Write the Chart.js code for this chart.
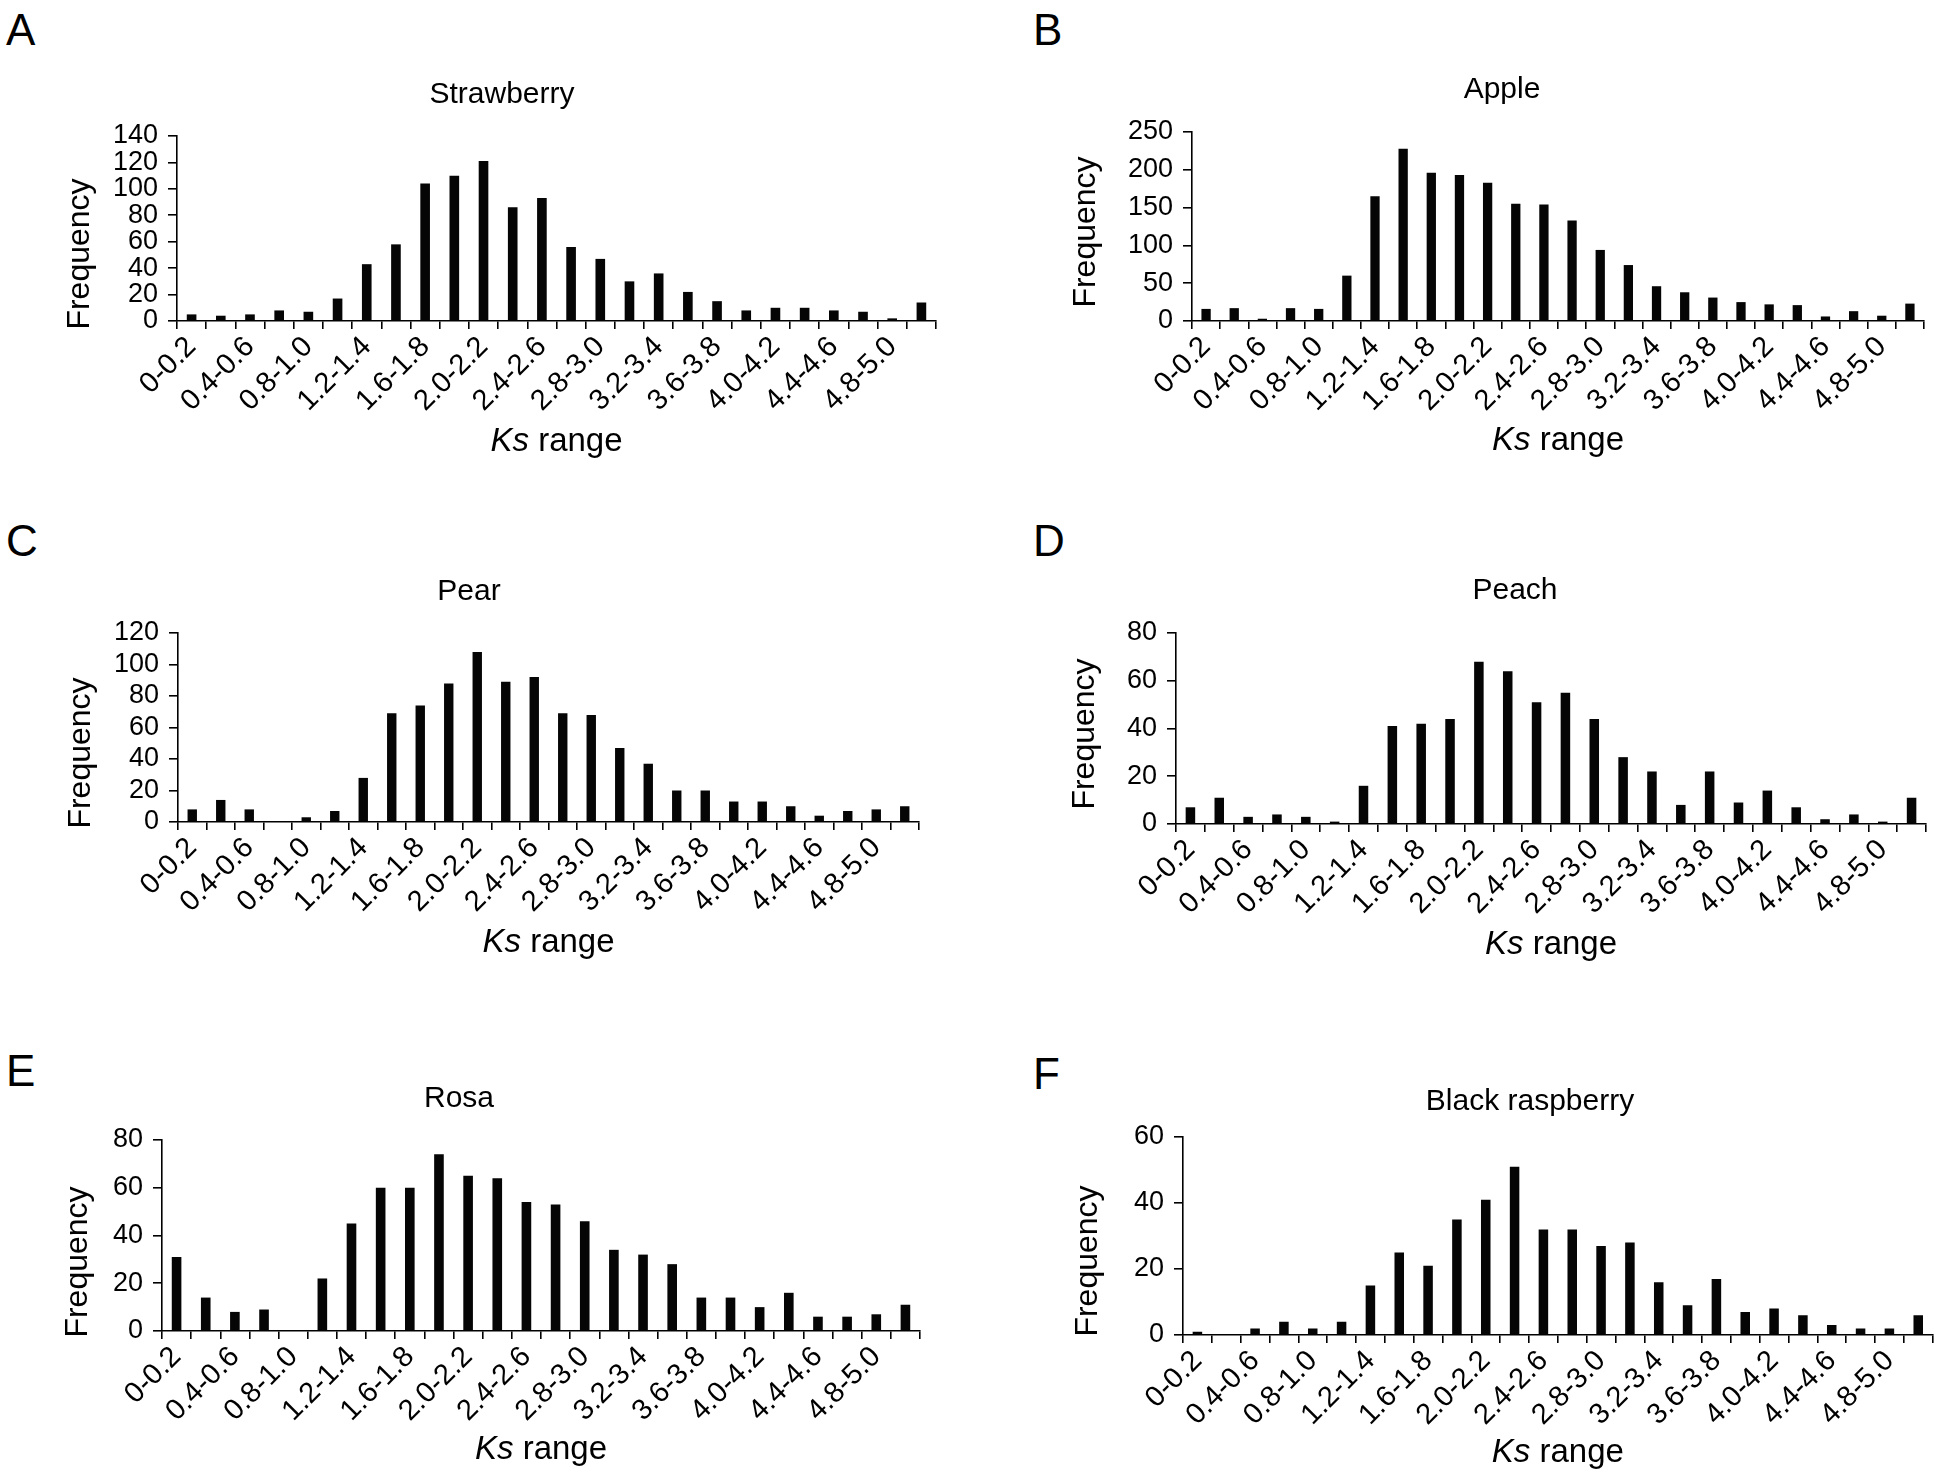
<!DOCTYPE html>
<html><head><meta charset="utf-8">
<script src="https://cdn.jsdelivr.net/npm/chart.js@4/dist/chart.umd.min.js"></script>
<style>
html,body{margin:0;padding:0;background:#fff;}
#wrap{position:relative;width:1944px;height:1475px;overflow:hidden;background:#fff;}
#wrap canvas{position:absolute;}
.letter{position:absolute;font-family:'Liberation Sans',Arial,Helvetica,sans-serif;font-size:44px;line-height:1;color:#000;}
</style></head><body><div id="wrap"></div>
<script>
// ---------- data ----------
const ksBins = ['0-0.2','0.2-0.4','0.4-0.6','0.6-0.8','0.8-1.0','1.0-1.2','1.2-1.4','1.4-1.6','1.6-1.8','1.8-2.0','2.0-2.2','2.2-2.4','2.4-2.6','2.6-2.8','2.8-3.0','3.0-3.2','3.2-3.4','3.4-3.6','3.6-3.8','3.8-4.0','4.0-4.2','4.2-4.4','4.4-4.6','4.6-4.8','4.8-5.0','>5.0'];
const ksTickLabels = ['0-0.2','','0.4-0.6','','0.8-1.0','','1.2-1.4','','1.6-1.8','','2.0-2.2','','2.4-2.6','','2.8-3.0','','3.2-3.4','','3.6-3.8','','4.0-4.2','','4.4-4.6','','4.8-5.0',''];
const panelLetters = ['A','B','C','D','E','F'];
const panelTitles = ['Strawberry','Apple','Pear','Peach','Rosa','Black raspberry'];
const strawberry = [5,4,5,8,7,17,43,58,104,110,121,86,93,56,47,30,36,22,15,8,10,10,8,7,2,14];
const apple = [16,17,3,17,16,60,165,228,196,193,183,155,154,133,94,74,46,38,31,25,22,21,6,13,7,23];
const pear = [8,14,8,0,3,7,28,69,74,88,108,89,92,69,68,47,37,20,20,13,13,10,4,7,8,10];
const peach = [7,11,3,4,3,1,16,41,42,44,68,64,51,55,44,28,22,8,22,9,14,7,2,4,1,11];
const rosa = [31,14,8,9,0,22,45,60,60,74,65,64,54,53,46,34,32,28,14,14,10,16,6,6,7,11];
const blackRaspberry = [1,0,2,4,2,4,15,25,21,35,41,51,32,32,27,28,16,9,17,7,8,6,3,2,2,6];
const yAxisMax = [140,250,120,80,80,60];
const yAxisStep = [20,50,20,20,20,20];
const yAxisTitle = 'Frequency';
const xAxisTitleItalic = 'Ks';
const xAxisTitleRest = ' range';
const seriesList = [strawberry, apple, pear, peach, rosa, blackRaspberry];

// ---------- layout (pixels) ----------
const FONT = "'Liberation Sans', Arial, Helvetica, sans-serif";
const panels = [
  {cx:0,   cy:0,   cw:972, ch:490, L:177,  R:936,  T:136,  B:321,  fx:80,   fy:254,  tx:502,  ty:95,   ky:442,  lx:6,    ly:8},
  {cx:972, cy:0,   cw:972, ch:490, L:1192, R:1924, T:132,  B:321,  fx:1086, fy:232,  tx:1502, ty:90,   ky:441,  lx:1033, ly:8},
  {cx:0,   cy:490, cw:972, ch:495, L:178,  R:919,  T:633,  B:822,  fx:81,   fy:753,  tx:469,  ty:592,  ky:943,  lx:6,    ly:519},
  {cx:972, cy:490, cw:972, ch:495, L:1176, R:1926, T:633,  B:824,  fx:1085, fy:734,  tx:1515, ty:591,  ky:945,  lx:1033, ly:519},
  {cx:0,   cy:985, cw:972, ch:490, L:162,  R:920,  T:1140, B:1331, fx:78,   fy:1262, tx:459,  ty:1099, ky:1450, lx:6,    ly:1049},
  {cx:972, cy:985, cw:972, ch:490, L:1183, R:1936, T:1137, B:1335, fx:1088, fy:1261, tx:1530, ty:1102, ky:1453, lx:1033, ly:1052}
];
const X_AXIS_H = 100;
const Y_TICK_SIZE = 27;
const X_TICK_SIZE = 29;

const panelText = {
  id: 'panelText',
  afterDraw(chart, args, o) {
    const ctx = chart.ctx, ca = chart.chartArea;
    ctx.save();
    ctx.fillStyle = '#000';
    ctx.textBaseline = 'middle';
    ctx.textAlign = 'center';
    // chart title
    ctx.font = '30px ' + FONT;
    ctx.fillText(o.title, o.tx, o.ty);
    // y axis title
    ctx.save();
    ctx.translate(o.fx, o.fy);
    ctx.rotate(-Math.PI / 2);
    ctx.font = '32px ' + FONT;
    ctx.fillText(o.ytitle, 0, 0);
    ctx.restore();
    // x axis title (italic Ks + range)
    const it = 'italic 33px ' + FONT, nm = '33px ' + FONT;
    ctx.font = it; const w1 = ctx.measureText(o.xi).width;
    ctx.font = nm; const w2 = ctx.measureText(o.xr).width;
    const x0 = (ca.left + ca.right) / 2 - (w1 + w2) / 2;
    ctx.textAlign = 'left';
    ctx.font = it; ctx.fillText(o.xi, x0, o.ky);
    ctx.font = nm; ctx.fillText(o.xr, x0 + w1, o.ky);
    ctx.restore();
  }
};

const wrap = document.getElementById('wrap');
panels.forEach((p, i) => {
  const lt = document.createElement('div');
  lt.className = 'letter';
  lt.style.left = p.lx + 'px';
  lt.style.top = p.ly + 'px';
  lt.textContent = panelLetters[i];
  wrap.appendChild(lt);

  const cv = document.createElement('canvas');
  cv.width = p.cw; cv.height = p.ch;
  cv.style.left = p.cx + 'px'; cv.style.top = p.cy + 'px';
  cv.style.width = p.cw + 'px'; cv.style.height = p.ch + 'px';
  wrap.appendChild(cv);

  const yW = p.L - p.cx;
  const padTop = p.T - p.cy;
  const padRight = p.cx + p.cw - p.R;
  const padBottom = p.cy + p.ch - p.B - X_AXIS_H;

  new Chart(cv, {
    type: 'bar',
    data: {
      labels: ksBins,
      datasets: [{
        data: seriesList[i],
        backgroundColor: '#050505',
        borderWidth: 0,
        barPercentage: 0.33,
        categoryPercentage: 1.0
      }]
    },
    plugins: [panelText],
    options: {
      responsive: false,
      animation: false,
      devicePixelRatio: 1,
      layout: {padding: {left: 0, right: padRight, top: padTop, bottom: padBottom}},
      plugins: {
        legend: {display: false},
        title: {display: false},
        tooltip: {enabled: false},
        panelText: {title: panelTitles[i], tx: p.tx - p.cx, ty: p.ty - p.cy, ky: p.ky - p.cy,
                    fx: p.fx - p.cx, fy: p.fy - p.cy, ytitle: yAxisTitle,
                    xi: xAxisTitleItalic, xr: xAxisTitleRest}
      },
      scales: {
        x: {
          type: 'category',
          offset: true,
          grid: {display: true, offset: true, drawOnChartArea: false, drawTicks: true, tickLength: 8, color: '#000', lineWidth: 1.6},
          border: {display: true, color: '#000', width: 1.6},
          ticks: {
            autoSkip: false, minRotation: 45, maxRotation: 45, padding: 1, color: '#000',
            font: {family: FONT, size: X_TICK_SIZE},
            callback: (v, idx) => ksTickLabels[idx]
          },
          afterFit: (s) => { s.height = X_AXIS_H; }
        },
        y: {
          min: 0, max: yAxisMax[i],
          grid: {display: true, drawOnChartArea: false, drawTicks: true, tickLength: 9, color: '#000', lineWidth: 1.6},
          border: {display: true, color: '#000', width: 1.6},
          ticks: {autoSkip: false, stepSize: yAxisStep[i], padding: 10, color: '#000', font: {family: FONT, size: Y_TICK_SIZE}},
          title: {display: false},
          afterFit: (s) => { s.width = yW; }
        }
      }
    }
  });
});
</script></body></html>
